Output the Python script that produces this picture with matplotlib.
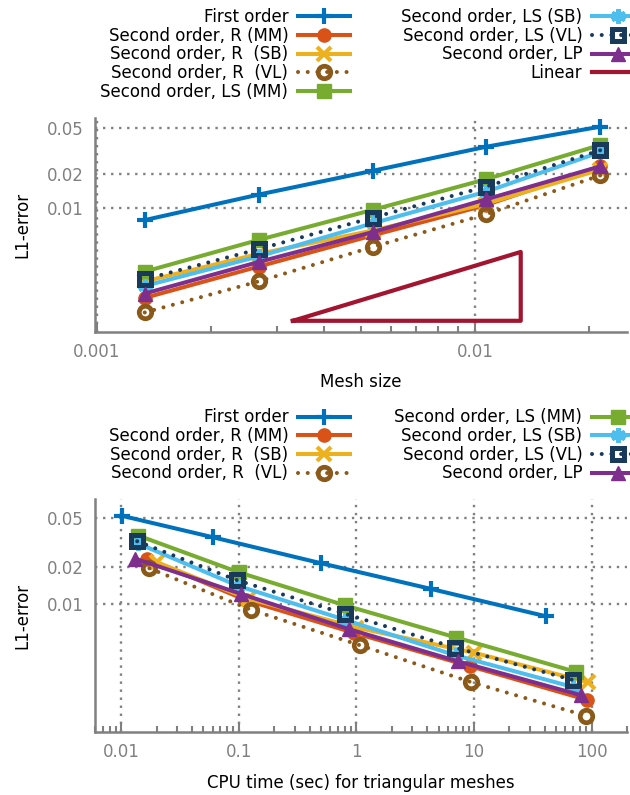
import numpy as np
import matplotlib
matplotlib.use("Agg")
import matplotlib.pyplot as plt
from matplotlib.ticker import FixedLocator, FixedFormatter, LogLocator, NullFormatter, NullLocator

# mesh sizes, coarse -> fine
mesh = [0.0214, 0.0107, 0.00536, 0.00268, 0.00134]

# L1 errors (same order as mesh)
err_first = [0.0518, 0.0346, 0.0213, 0.0132, 0.0079]
err_r_mm = [0.0233, 0.0107, 0.0058, 0.0031, 0.00165]
err_r_sb = [0.0218, 0.0110, 0.0064, 0.0040, 0.0023]
err_r_vl = [0.0194, 0.0089, 0.0046, 0.0023, 0.00123]
err_ls_mm = [0.0358, 0.0180, 0.0097, 0.0053, 0.0028]
err_ls_sb = [0.0310, 0.0140, 0.0074, 0.0038, 0.0021]
err_ls_vl = [0.0322, 0.0155, 0.0083, 0.0044, 0.0024]
err_lp = [0.0233, 0.0120, 0.0062, 0.0034, 0.0018]

# CPU time in seconds (same order as mesh)
cpu_first = [0.0102, 0.061, 0.505, 4.3, 41]
cpu_r_mm = [0.0166, 0.115, 0.95, 9.3, 92]
cpu_r_sb = [0.0200, 0.12, 1.0, 10.0, 93]
cpu_r_vl = [0.0174, 0.128, 1.07, 9.5, 89]
cpu_ls_mm = [0.0140, 0.100, 0.80, 7.1, 73]
cpu_ls_sb = [0.0138, 0.098, 0.80, 7.0, 70]
cpu_ls_vl = [0.0137, 0.097, 0.795, 6.9, 69]
cpu_lp = [0.0131, 0.105, 0.87, 7.3, 82]

# slope-1 reference triangle
lin_x = [0.0033, 0.0132, 0.0132, 0.0033]
lin_y = [0.00104, 0.00104, 0.00416, 0.00104]

labels = ["First order", "Second order, R (MM)", "Second order, R  (SB)",
          "Second order, R  (VL)", "Second order, LS (MM)", "Second order, LS (SB)",
          "Second order, LS (VL)", "Second order, LP"]
errors = [err_first, err_r_mm, err_r_sb, err_r_vl, err_ls_mm, err_ls_sb, err_ls_vl, err_lp]
times = [cpu_first, cpu_r_mm, cpu_r_sb, cpu_r_vl, cpu_ls_mm, cpu_ls_sb, cpu_ls_vl, cpu_lp]

dots = (0, (0.01, 2.4))
styles = [
    dict(color="#0072bd", marker="+", ms=12, mew=3.0, ls="-"),
    dict(color="#d95319", marker="o", ms=9.5, ls="-"),
    dict(color="#edb120", marker="x", ms=9.5, mew=3.0, ls="-"),
    dict(color="#8b5a1b", marker="o", ms=9, mfc="none", mew=3.4, ls=dots),
    dict(color="#77ac30", marker="s", ms=9.5, ls="-"),
    dict(color="#4dbeee", marker=(6, 2, 0), ms=10.5, mew=3.0, ls="-"),
    dict(color="#1a3a5c", marker="s", ms=9, mfc="none", mew=3.6, ls=dots),
    dict(color="#7e2f8e", marker="^", ms=10.5, ls="-"),
]

GRAY = "#808080"
plt.rcParams["font.family"] = ["DejaVu Sans"]

fig = plt.figure(figsize=(6.3, 7.95), dpi=100)
W, H = 630.0, 795.0
ax1 = fig.add_axes([95 / W, 1 - 332 / H, 532 / W, 214 / H])
ax2 = fig.add_axes([95 / W, 1 - 732 / H, 532 / W, 233 / H])


def style_axes(ax, xticks, xlabels, xlim, ylim, xlabel):
    ax.set_xscale("log")
    ax.set_yscale("log")
    ax.set_xlim(*xlim)
    ax.set_ylim(*ylim)
    for s in ["top", "right"]:
        ax.spines[s].set_visible(False)
    for s in ["left", "bottom"]:
        ax.spines[s].set_color(GRAY)
        ax.spines[s].set_linewidth(1.8)
    ax.xaxis.set_major_locator(FixedLocator(xticks))
    ax.xaxis.set_major_formatter(FixedFormatter(xlabels))
    ax.xaxis.set_minor_locator(LogLocator(base=10, subs=np.arange(2, 10), numticks=20))
    ax.xaxis.set_minor_formatter(NullFormatter())
    ax.yaxis.set_major_locator(FixedLocator([0.01, 0.02, 0.05]))
    ax.yaxis.set_major_formatter(FixedFormatter(["0.01", "0.02", "0.05"]))
    ax.yaxis.set_minor_locator(NullLocator())
    ax.tick_params(axis="x", which="both", direction="in", color=GRAY, width=1.5,
                   labelcolor=GRAY, labelsize=12, pad=8)
    ax.tick_params(axis="x", which="major", length=7)
    ax.tick_params(axis="x", which="minor", length=4)
    ax.tick_params(axis="y", which="both", length=0, labelcolor=GRAY, labelsize=12, pad=8)
    ax.grid(True, which="major", color=GRAY, linestyle=(0, (1, 2.4)), linewidth=1.7)
    ax.set_axisbelow(True)
    ax.set_xlabel(xlabel, fontsize=12)
    ax.set_ylabel("L1-error", fontsize=12)


def add_legend(handles, names, right_px, top_px):
    leg = fig.legend(handles, names, loc="upper right",
                     bbox_to_anchor=(right_px / W, 1 - top_px / H),
                     markerfirst=False, frameon=False, fontsize=12, borderpad=0,
                     borderaxespad=0, handlelength=3.1, handletextpad=0.6,
                     labelspacing=0.04, numpoints=1)
    return leg


# top: error vs mesh size
lines1 = []
for e, st in zip(errors, styles):
    ln, = ax1.plot(mesh, e, lw=2.9, dash_capstyle="round", clip_on=False, **st)
    lines1.append(ln)
tri, = ax1.plot(lin_x, lin_y, color="#a2142f", lw=3.0)
style_axes(ax1, [0.001, 0.01], ["0.001", "0.01"], (0.00099, 0.0252), (0.00083, 0.0617), "Mesh size")

# bottom: error vs CPU time
lines2 = []
for t, e, st in zip(times, errors, styles):
    ln, = ax2.plot(t, e, lw=2.9, dash_capstyle="round", clip_on=False, **st)
    lines2.append(ln)
style_axes(ax2, [0.01, 0.1, 1, 10, 100], ["0.01", "0.1", "1", "10", "100"],
           (0.006, 200), (0.000906, 0.071), "CPU time (sec) for triangular meshes")

for ax, xl_y in [(ax1, -0.232), (ax2, -0.219)]:
    ax.xaxis.set_label_coords(0.5, xl_y)
    ax.xaxis.label.set_va("center")
    ax.yaxis.set_label_coords(-0.137, 0.5)
    ax.yaxis.label.set_va("center")

top_handles = lines1 + [tri]
top_names = labels + ["Linear"]
add_legend(top_handles[:5], top_names[:5], 350, 8)
add_legend(top_handles[5:], top_names[5:], 644, 8)
add_legend(lines2[:4], labels[:4], 350, 408.5)
add_legend(lines2[4:], labels[4:], 644, 408.5)

fig.savefig("out.png", dpi=100)
